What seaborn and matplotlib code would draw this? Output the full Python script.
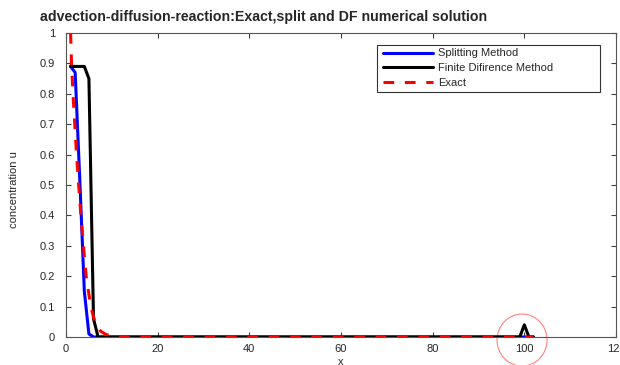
import matplotlib
matplotlib.use("Agg")
import matplotlib.pyplot as plt
import seaborn as sns
from matplotlib.patches import Ellipse, Rectangle

# ---- data ----
split_x = [1, 2, 3, 4, 5, 6, 102]
split_y = [0.89, 0.87, 0.52, 0.15, 0.01, 0.0, 0.0]

fd_x = [1, 2, 3, 4, 5, 6, 7, 99, 100, 101, 102]
fd_y = [0.89, 0.89, 0.89, 0.89, 0.85, 0.06, 0.0, 0.0, 0.04, 0.0, 0.0]

exact_x = [1.0, 1.2, 1.6, 2.3, 3.0, 3.8, 4.4, 5.4, 6.3, 7.5, 8.5, 10, 12, 102]
exact_y = [1.0, 0.9, 0.78, 0.6, 0.45, 0.3, 0.2, 0.1, 0.05, 0.02, 0.01, 0.002, 0.0, 0.0]

labels = ["Splitting Method", "Finite Difirence Method", "Exact"]
x_ticks = [0, 20, 40, 60, 80, 100, 120]
y_ticks = [0, 0.1, 0.2, 0.3, 0.4, 0.5, 0.6, 0.7, 0.8, 0.9, 1]
y_tick_labels = ["0", "0.1", "0.2", "0.3", "0.4", "0.5", "0.6", "0.7", "0.8", "0.9", "1"]

sns.set_style("white")
plt.rcParams["font.family"] = ["Liberation Sans", "DejaVu Sans"]

W, H = 620, 365
fig = plt.figure(figsize=(6.2, 3.65), dpi=100)
ax = fig.add_axes([66 / W, 1 - 337 / H, 550 / W, 304 / H])

sns.lineplot(x=split_x, y=split_y, ax=ax, color="#0000ff", lw=2.2, label=labels[0], sort=False)
sns.lineplot(x=fd_x, y=fd_y, ax=ax, color="#000000", lw=2.2, label=labels[1], sort=False)
sns.lineplot(x=exact_x, y=exact_y, ax=ax, color="#ff0000", lw=2.2, label=labels[2], sort=False)
ax.lines[2].set_dashes([3.5, 3.5])

ax.set_xlim(0, 120)
ax.set_ylim(0, 1)
ax.set_xticks(x_ticks)
ax.set_yticks(y_ticks)
ax.set_yticklabels(y_tick_labels)
ax.tick_params(direction="in", length=3.5, width=0.8, colors="#404040",
               labelcolor="#262626", labelsize=8, top=True, right=True,
               bottom=True, left=True)
ax.tick_params(axis="y", pad=8)
ax.tick_params(axis="x", pad=5)
for s in ax.spines.values():
    s.set_color("#555555")
    s.set_linewidth(0.8)

ax.set_xlabel("x", fontsize=8, labelpad=2)
ax.set_ylabel("")
fig.text(14 / W, 1 - 190 / H, "concentration u", rotation=90, fontsize=8,
         family=["Liberation Sans Narrow", "Liberation Sans", "DejaVu Sans"],
         ha="center", va="center", color="#262626")

fig.text(40 / W, 1 - 17 / H, "advection-diffusion-reaction:Exact,split and DF numerical solution",
         fontsize=10.2, fontweight="bold", va="center", ha="left")

frame = Rectangle((377 / W, 1 - 92 / H), (600 - 377) / W, (92 - 45) / H,
                  transform=fig.transFigure, fill=True, facecolor="white",
                  edgecolor="#333333", lw=0.8, zorder=4, clip_on=False)
ax.add_patch(frame)

leg = ax.legend(loc="upper left", bbox_to_anchor=(383 / W, 1 - 48.5 / H),
                bbox_transform=fig.transFigure,
                fontsize=8, frameon=False, handlelength=4.5,
                handletextpad=0.45, borderpad=0, labelspacing=0.42, borderaxespad=0)
leg.set_zorder(10)

circ = Ellipse((99.5, -0.01), width=50 / 550 * 120, height=52 / 304, fill=False,
               edgecolor="#ff8080", lw=0.8, clip_on=False)
ax.add_patch(circ)

fig.savefig("out.png", dpi=100)
